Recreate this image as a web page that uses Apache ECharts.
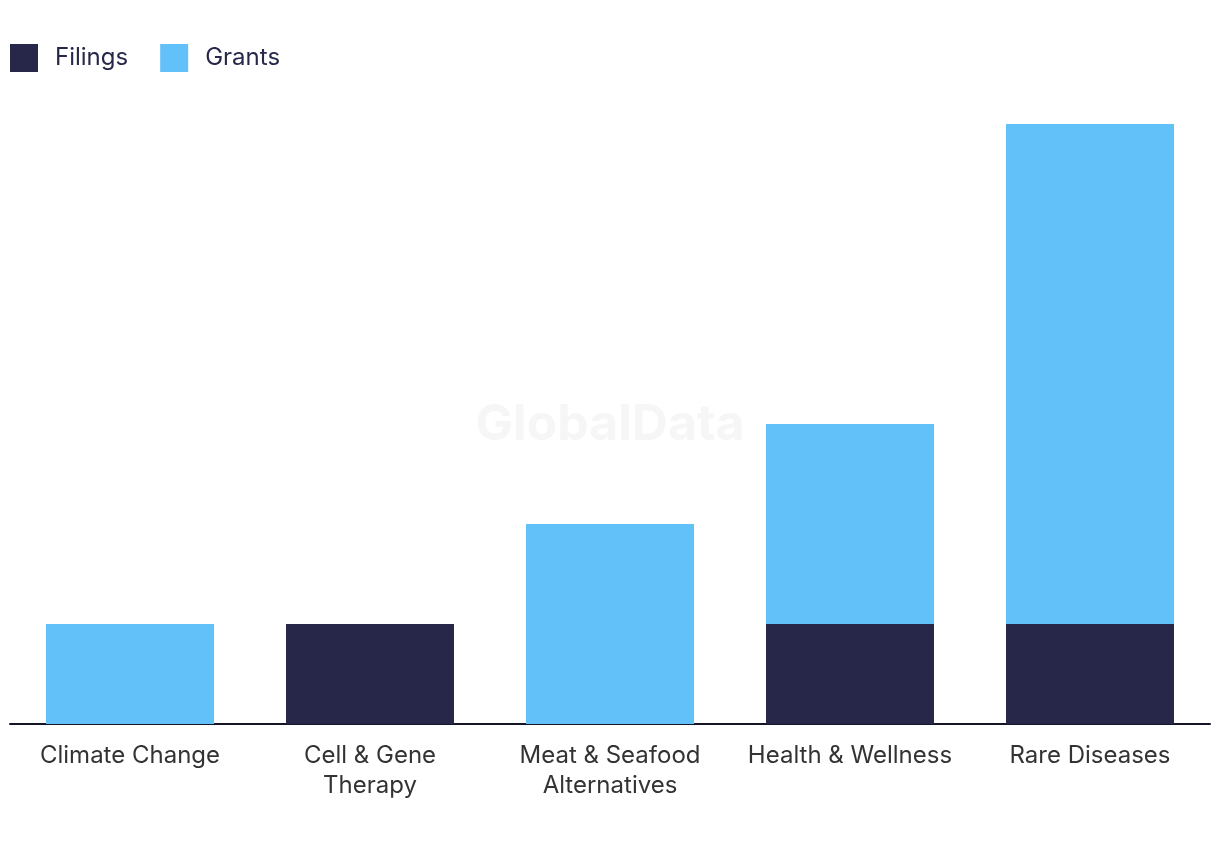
<!DOCTYPE html>
<html><head><meta charset="utf-8">
<script src="https://cdn.jsdelivr.net/npm/echarts@6/dist/echarts.min.js"></script>
<style>html,body{margin:0;padding:0;background:#fff}#c{width:1220px;height:850px}</style>
</head><body><div id="c"></div>
<script>
const categories = ['Climate Change', 'Cell & Gene\nTherapy', 'Meat & Seafood\nAlternatives', 'Health & Wellness', 'Rare Diseases'];
const filings = [0, 1, 0, 1, 1];
const grants = [1, 0, 2, 2, 5];

const chart = echarts.init(document.getElementById('c'));
chart.setOption({
  animation: false,
  graphic: [{
    type: 'text', left: 'center', top: 400, z: 0,
    style: { text: 'GlobalData', font: 'bold 50px Inter, "Liberation Sans", sans-serif', fill: '#f6f6f6' }
  }],
  legend: {
    left: 10, top: 44, padding: 0, itemWidth: 28, itemHeight: 28, itemGap: 32,
    icon: 'rect',
    textStyle: { fontSize: 24, color: '#272849', fontFamily: 'Inter, sans-serif', padding: [0, 0, 0, 12] },
    data: ['Filings', 'Grants']
  },
  grid: { left: 10, right: 10, top: 124, bottom: 126, containLabel: false },
  xAxis: {
    type: 'category', data: categories,
    axisLine: { lineStyle: { color: '#151528', width: 2 } },
    axisTick: { show: false },
    axisLabel: { fontSize: 24, color: '#333333', fontFamily: 'Inter, sans-serif', margin: 17, lineHeight: 30, interval: 0 }
  },
  yAxis: { type: 'value', min: 0, max: 6, interval: 1, show: false, splitLine: { show: false } },
  series: [
    { name: 'Filings', type: 'bar', stack: 't', data: filings, barWidth: '70%', itemStyle: { color: '#272849' }, z: 2 },
    { name: 'Grants', type: 'bar', stack: 't', data: grants, barWidth: '70%', itemStyle: { color: '#62c1f8' }, z: 2 }
  ]
});
</script></body></html>
